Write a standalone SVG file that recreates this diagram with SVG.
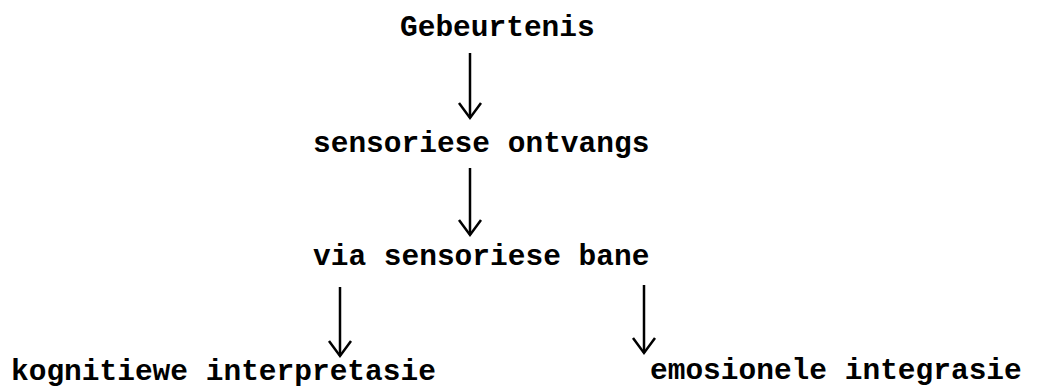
<svg xmlns="http://www.w3.org/2000/svg" width="1038" height="388" viewBox="0 0 1038 388">
<style>
text{font-family:"Liberation Mono","DejaVu Sans Mono",monospace;font-size:29.5px;font-weight:bold;fill:#000}
.c line,.c path{stroke:#000;stroke-width:2.5;fill:none}
</style>
<rect width="1038" height="388" fill="#fff"/>
<g id="n1"><text x="400" y="36">Gebeurtenis</text></g>
<g id="n2"><text x="313" y="152">sensoriese ontvangs</text></g>
<g id="n3"><text x="313" y="265">via sensoriese bane</text></g>
<g id="n4"><text x="11" y="380">kognitiewe interpretasie</text></g>
<g id="n5"><text x="650" y="379">emosionele integrasie</text></g>
<g class="c" id="connectors">
<line x1="470" y1="53" x2="470" y2="118"/><path d="M459 103 L470 118 L481 103"/>
<line x1="470" y1="168" x2="470" y2="235"/><path d="M459 220 L470 235 L481 220"/>
<line x1="340" y1="287" x2="340" y2="356"/><path d="M329 341 L340 356 L351 341"/>
<line x1="644" y1="285" x2="644" y2="353"/><path d="M633 338 L644 353 L655 338"/>
</g>
</svg>
